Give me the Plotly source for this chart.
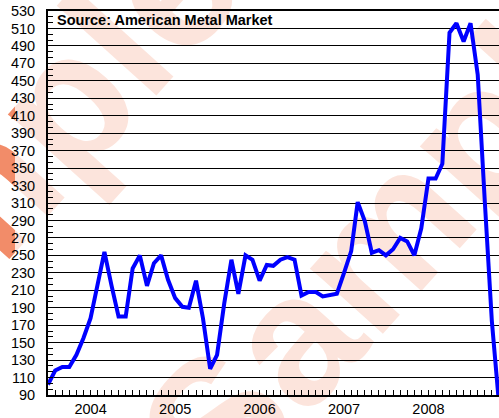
import plotly.graph_objects as go
import pandas as pd

# ---- data ----
months = pd.date_range("2003-07-01", "2008-11-01", freq="MS")
prices = [102, 118, 122, 122, 136, 155, 178, 218, 254, 215, 180, 180,
          235, 250, 215, 241, 250, 222, 201, 191, 190, 221, 178, 120,
          136, 195, 245, 206, 250, 245, 221, 239, 238, 245, 248, 245,
          204, 208, 208, 203, 205, 206, 230, 255, 311, 289, 253, 256,
          250, 257, 270, 266, 250, 281, 338, 338, 355, 505, 516, 495,
          516, 457, 310, 175, 80]
year_ticks = ["2004-01-01", "2005-01-01", "2006-01-01", "2007-01-01", "2008-01-01"]
year_labels = ["2004", "2005", "2006", "2007", "2008"]
source_text = "Source: American Metal Market"
watermark = "Sample"

FONT = "Liberation Sans, Arial, sans-serif"
W, H = 499, 418
ML, MR, MT, MB = 48, 0, 11, 23

def px(xp):
    return (xp - ML) / (W - ML - MR)

def py(yp):
    return (H - MB - yp) / (H - MT - MB)

fig = go.Figure()
fig.add_trace(go.Scatter(
    x=months, y=prices, mode="lines",
    line=dict(color="#0000ff", width=4),
    hoverinfo="skip",
))

shapes = []
for cx, cy, size in [(382, 212, 185), (-30, 180, 185)]:
    shapes.append(dict(
        type="rect", xref="paper", yref="paper",
        x0=px(cx) - 0.01, x1=px(cx) + 0.01, y0=py(cy) - 0.01, y1=py(cy) + 0.01,
        line=dict(width=0), fillcolor="rgba(0,0,0,0)", layer="below",
        label=dict(text="<b>" + watermark + "</b>", textangle=-48,
                   textposition="middle center",
                   font=dict(family=FONT, size=size, color="#f28c69")),
    ))
shapes.append(dict(
    type="rect", xref="paper", yref="paper", x0=px(15), x1=px(W + 5),
    y0=py(H + 5), y1=py(-5),
    line=dict(width=0), fillcolor="rgba(255,255,255,0.77)", layer="below",
))

fig.update_layout(
    width=W, height=H,
    margin=dict(l=ML, r=MR, t=MT, b=MB, pad=0),
    paper_bgcolor="white", plot_bgcolor="rgba(0,0,0,0)",
    showlegend=False,
    font=dict(family=FONT, size=14.5, color="black"),
    shapes=shapes,
    annotations=[dict(
        text="<b>" + source_text + "</b>", xref="paper", yref="paper",
        x=px(55), y=py(20), xanchor="left", yanchor="middle",
        showarrow=False, font=dict(family=FONT, size=14.5, color="black"),
    )],
)
fig.update_xaxes(
    range=[months[0], months[-1]],
    tickmode="array", tickvals=year_ticks, ticktext=year_labels,
    ticks="inside", ticklen=5, tickcolor="black", tickwidth=1,
    minor=dict(dtick="M1", tick0="2003-07-01", ticks="inside", ticklen=5,
               tickcolor="black", tickwidth=1, showgrid=False),
    showgrid=False, zeroline=False,
    showline=True, linecolor="black", linewidth=2, mirror=True,
    tickfont=dict(family=FONT, size=14.5, color="black"),
)
fig.update_yaxes(
    range=[90, 530], tick0=90, dtick=20,
    ticks="inside", ticklen=5, tickcolor="black", tickwidth=1,
    minor=dict(dtick=20 / 3, tick0=90, ticks="inside", ticklen=5,
               tickcolor="black", tickwidth=1, showgrid=False),
    showgrid=True, gridcolor="black", gridwidth=1, zeroline=False,
    showline=True, linecolor="black", linewidth=2,
    ticklabelstandoff=8,
    tickfont=dict(family=FONT, size=14.5, color="black"),
)

fig.write_html(
    "out.html",
    config={"displayModeBar": False},
    post_script="document.body.style.margin='0';document.body.style.overflow='hidden';",
)
